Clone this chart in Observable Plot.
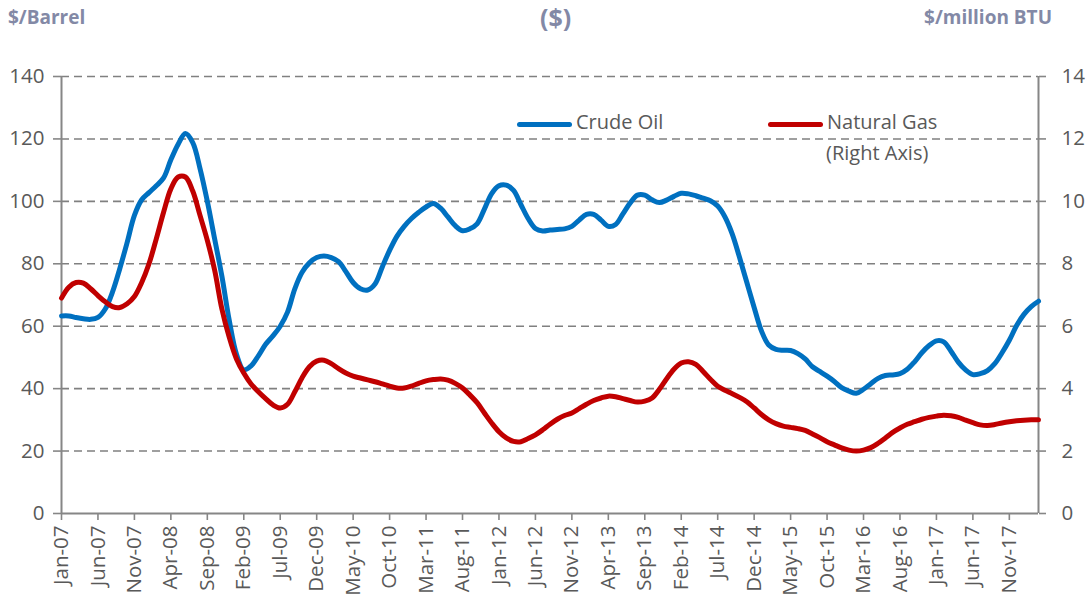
<!DOCTYPE html>
<html><head><meta charset="utf-8">
<script src="https://cdn.jsdelivr.net/npm/d3@7"></script>
<script src="https://cdn.jsdelivr.net/npm/@observablehq/plot@0.6"></script>
<style>
body{margin:0;background:#fff;font-family:"Open Sans",sans-serif;}
#wrap{position:relative;width:1089px;height:600px;overflow:hidden;}
#header{position:relative;height:40px;}
.hdr{position:absolute;font-family:"Liberation Sans Narrow","Open Sans",sans-serif;font-weight:bold;color:#8389a6;font-size:19px;line-height:1;white-space:nowrap;}
.leg{position:absolute;color:#595959;font-size:20px;line-height:1;white-space:nowrap;}
.sw{position:absolute;height:5px;border-radius:3px;}
</style></head><body>
<div id="wrap">
  <div id="header">
    <div class="hdr" style="left:8px;top:8px;">$/Barrel</div>
    <div class="hdr" style="left:540px;top:5px;font-size:25px;">($)</div>
    <div class="hdr" style="right:37px;top:8px;">$/million BTU</div>
  </div>
  <div id="chart"></div>
  <div class="sw" style="left:517px;top:121.5px;width:55px;background:#0070C0;"></div>
  <div class="leg" style="left:576px;top:112px;">Crude Oil</div>
  <div class="sw" style="left:768px;top:121.5px;width:55px;background:#C00000;"></div>
  <div class="leg" style="left:827px;top:112px;">Natural Gas</div>
  <div class="leg" style="left:826px;top:143px;">(Right Axis)</div>
</div>
<script>
// Monthly series starting Jan-2007 (index 0) through Mar-2018
const startYear = 2007;
const crudeOil = [
  63.3,63.3,62.8,62.4,62.2,62.8,65.5,71,78.5,86.8,
  95.5,100.5,102.8,105,107.5,113.3,118.3,121.7,118.8,110.5,
  100,88,76,62,51,46,47.3,50.5,54.2,56.9,
  60,64.5,72,77.3,80.3,82,82.5,82,80.7,77.5,
  74,72,71.6,73.5,79,84.3,88.8,92,94.5,96.5,
  98.2,99.3,97.8,95,92.2,90.6,91.2,92.8,97.5,102.5,
  105,105.2,103.5,99,94.5,91.3,90.5,90.8,91,91.2,
  92,94,95.8,95.8,94,92,92.6,96,99.5,102,
  102,100.5,99.6,100.4,101.6,102.6,102.4,101.8,101,100.2,
  98.5,95,89.5,82,74,66,58.5,54,52.6,52.3,
  52.2,51.2,49.5,47,45.5,44,42.3,40.3,39.2,38.5,
  39.8,41.6,43.3,44.2,44.4,44.8,46.2,48.6,51.5,53.8,
  55.3,55,52,48.5,46,44.5,44.8,45.8,48,51.5,
  55.5,60.2,63.8,66.3,68
];
const naturalGas = [
  6.9,7.25,7.4,7.38,7.2,6.98,6.78,6.63,6.6,6.72,
  6.95,7.4,8.0,8.8,9.65,10.4,10.78,10.78,10.33,9.55,
  8.75,7.8,6.55,5.65,4.95,4.5,4.15,3.9,3.68,3.48,
  3.38,3.5,3.9,4.35,4.7,4.88,4.91,4.8,4.64,4.5,
  4.4,4.34,4.28,4.22,4.15,4.08,4.02,4.02,4.08,4.17,
  4.25,4.29,4.31,4.27,4.17,4.02,3.8,3.55,3.22,2.9,
  2.62,2.42,2.31,2.3,2.4,2.52,2.68,2.86,3.02,3.14,
  3.22,3.36,3.5,3.62,3.7,3.76,3.74,3.68,3.62,3.57,
  3.6,3.7,3.98,4.32,4.62,4.82,4.86,4.78,4.55,4.3,
  4.08,3.95,3.84,3.72,3.58,3.38,3.17,3.0,2.88,2.8,
  2.76,2.72,2.66,2.55,2.43,2.3,2.2,2.1,2.03,2.0,
  2.03,2.11,2.25,2.42,2.6,2.74,2.86,2.94,3.02,3.08,
  3.12,3.15,3.13,3.08,2.99,2.91,2.84,2.82,2.85,2.9,
  2.94,2.97,2.99,3.0,3.0
];
const leftTicks = [0,20,40,60,80,100,120,140];
const rightTicks = [0,2,4,6,8,10,12,14];
const xTickStep = 5;

const fmt = d3.utcFormat("%b-%y");
const monthLabel = i => fmt(new Date(Date.UTC(startYear, i, 1)));
const data = crudeOil.map((v, i) => ({i, oil: v, gas: naturalGas[i]}));
const last = data.length - 1;
const xTicks = d3.range(0, last + 1, xTickStep);
const ratio = 10; // right axis scale factor (140 / 14)

const chart = Plot.plot({
  width: 1089,
  height: 560,
  marginLeft: 61,
  marginRight: 51,
  marginTop: 36,
  marginBottom: 87,
  style: {fontFamily: "Open Sans, sans-serif", fontSize: "20px", color: "#595959", background: "#fff"},
  x: {type: "linear", domain: [0, last]},
  y: {domain: [0, 140]},
  marks: [
    Plot.gridY(leftTicks.filter(d => d > 0), {stroke: "#808080", strokeOpacity: 1, strokeWidth: 1.6, strokeDasharray: "8,5"}),
    Plot.axisY(leftTicks, {anchor: "left", tickSize: 8, tickPadding: 9, stroke: "#868686", strokeWidth: 1.6, fill: "#595959", label: null, fontSize: 20.5}),
    Plot.axisY(rightTicks.map(d => d * ratio), {anchor: "right", tickFormat: d => d / ratio, tickSize: 7, tickPadding: 16, stroke: "#868686", strokeWidth: 1.6, fill: "#595959", label: null, fontSize: 20.5}),
    Plot.axisX(xTicks, {anchor: "bottom", tickFormat: monthLabel, tickRotate: -90, tickSize: 7, tickPadding: 5, stroke: "#868686", strokeWidth: 1.6, fill: "#595959", label: null, fontSize: 20.5}),
    Plot.ruleX([0, last], {stroke: "#868686", strokeWidth: 2}),
    Plot.ruleY([0], {stroke: "#868686", strokeWidth: 2}),
    Plot.line(data, {x: "i", y: "oil", stroke: "#0070C0", strokeWidth: 5, curve: "catmull-rom", strokeLinejoin: "round", strokeLinecap: "round"}),
    Plot.line(data, {x: "i", y: d => d.gas * ratio, stroke: "#C00000", strokeWidth: 5, curve: "catmull-rom", strokeLinejoin: "round", strokeLinecap: "round"})
  ]
});
document.getElementById("chart").appendChild(chart);
</script>
</body></html>
